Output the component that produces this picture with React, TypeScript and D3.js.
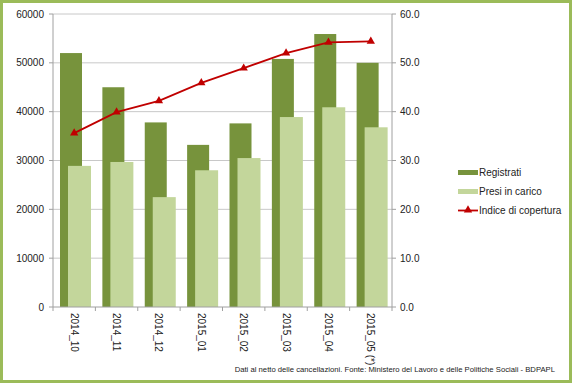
import React from "react";
import * as d3 from "d3";

const categories = ["2014_10", "2014_11", "2014_12", "2015_01", "2015_02", "2015_03", "2015_04", "2015_05 (*)"];
const registrati = [52000, 45000, 37800, 33200, 37600, 50800, 55900, 50000];
const presiInCarico = [28900, 29700, 22500, 28000, 30500, 38900, 40900, 36800];
const indiceCopertura = [35.6, 39.9, 42.2, 45.9, 48.9, 52.0, 54.2, 54.4];
const leftTicks = [0, 10000, 20000, 30000, 40000, 50000, 60000];
const rightTicks = [0, 10, 20, 30, 40, 50, 60];
const legendLabels = ["Registrati", "Presi in carico", "Indice di copertura"];
const footnote = "Dati al netto delle cancellazioni. Fonte: Ministero del Lavoro e delle Politiche Sociali - BDPAPL";

const W = 572, H = 383;
const left = 53, right = 392, top = 14, bottom = 307;
const DARK = "#77933c", LIGHT = "#c3d69b", RED = "#c00000", FRAME = "#9bbb59";
const FONT = "'Liberation Sans', Arial, sans-serif";

export default function App() {
  const x = d3.scaleBand().domain(categories).range([left, right]).padding(0);
  const yL = d3.scaleLinear().domain([0, 60000]).range([bottom, top]);
  const yR = d3.scaleLinear().domain([0, 60]).range([bottom, top]);
  const bw = 22;
  const line = d3.line<number>()
    .x((_, i) => (x(categories[i]) as number) + x.bandwidth() / 2)
    .y((d) => yR(d));
  const tri = d3.symbol().type(d3.symbolTriangle).size(30)();

  return (
    <svg width={W} height={H} style={{ position: "absolute", left: 0, top: 0, background: "#fff" }}>
      <rect x={1.5} y={1.5} width={W - 3} height={H - 3} fill="#fff" stroke={FRAME} strokeWidth={3} />
      {leftTicks.map((t) => (
        <g key={t}>
          {t > 0 && <line x1={left} x2={right} y1={yL(t)} y2={yL(t)} stroke="#c8c8c8" strokeWidth={1} />}
          <line x1={left - 4} x2={left} y1={yL(t)} y2={yL(t)} stroke="#a0a0a0" />
          <text x={44} y={yL(t)} dy="0.35em" textAnchor="end" fontFamily={FONT} fontSize={10} fill="#222">{t}</text>
        </g>
      ))}
      {rightTicks.map((t) => (
        <g key={t}>
          <line x1={right} x2={right + 4} y1={yR(t)} y2={yR(t)} stroke="#a0a0a0" />
          <text x={400} y={yR(t)} dy="0.35em" textAnchor="start" fontFamily={FONT} fontSize={10} fill="#222">{t.toFixed(1)}</text>
        </g>
      ))}
      {categories.map((c, i) => {
        const x0 = x(c) as number;
        return (
          <g key={c}>
            <rect x={x0 + 7} y={yL(registrati[i])} width={bw} height={bottom - yL(registrati[i])} fill={DARK} />
            <rect x={x0 + 15} y={yL(presiInCarico[i])} width={bw + 1} height={bottom - yL(presiInCarico[i])} fill={LIGHT} />
          </g>
        );
      })}
      <line x1={left} x2={left} y1={top} y2={bottom} stroke="#a0a0a0" />
      <line x1={right} x2={right} y1={top} y2={bottom} stroke="#a0a0a0" />
      <line x1={left} x2={right} y1={bottom} y2={bottom} stroke="#a0a0a0" />
      {categories.map((c, i) => (
        <line key={"t" + i} x1={x(c) as number} x2={x(c) as number} y1={bottom} y2={bottom + 4} stroke="#a0a0a0" />
      ))}
      <line x1={right} x2={right} y1={bottom} y2={bottom + 4} stroke="#a0a0a0" />
      {categories.map((c) => {
        const cx = (x(c) as number) + x.bandwidth() / 2;
        return (
          <text key={"l" + c} transform={`translate(${cx},${bottom + 6}) rotate(90)`} dy="0.35em" fontFamily={FONT} fontSize={10} fill="#222">{c}</text>
        );
      })}
      <path d={line(indiceCopertura) || ""} fill="none" stroke={RED} strokeWidth={1.8} />
      {indiceCopertura.map((v, i) => (
        <path key={"m" + i} d={tri || ""} transform={`translate(${(x(categories[i]) as number) + x.bandwidth() / 2},${yR(v)})`} fill={RED} />
      ))}
      <g fontFamily={FONT} fontSize={10} fill="#222">
        <rect x={458} y={170} width={20} height={5} fill={DARK} />
        <text x={479} y={172.5} dy="0.35em">{legendLabels[0]}</text>
        <rect x={458} y={189} width={20} height={5} fill={LIGHT} />
        <text x={479} y={191.5} dy="0.35em">{legendLabels[1]}</text>
        <line x1={458} x2={478} y1={210.5} y2={210.5} stroke={RED} strokeWidth={1.8} />
        <path d={tri || ""} transform={`translate(468,210)`} fill={RED} />
        <text x={479} y={210.5} dy="0.35em">{legendLabels[2]}</text>
      </g>
      <text x={555} y={372} textAnchor="end" fontFamily={FONT} fontSize={7.7} fill="#222">{footnote}</text>
    </svg>
  );
}
